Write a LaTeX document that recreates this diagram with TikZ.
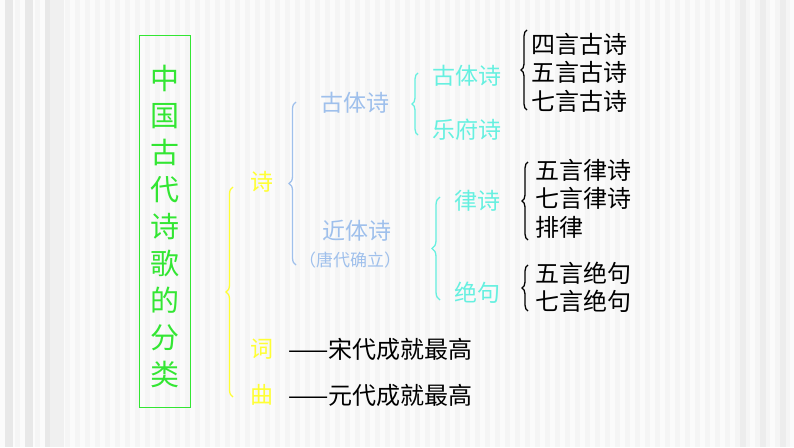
\documentclass[tikz,border=0pt]{standalone}
\usepackage{fontspec}
\setmainfont{Noto Sans CJK SC}
\usetikzlibrary{decorations.pathreplacing}
\definecolor{tgreen}{HTML}{33E633}
\definecolor{tyellow}{HTML}{FFFF33}
\definecolor{tblue}{HTML}{9FC0EC}
\definecolor{tcyan}{HTML}{66F0E0}
\tikzset{
 br/.style={decorate,decoration={brace,amplitude=#1},line width=1.3pt},
 ytxt/.style={text=tyellow,font=\fontsize{23}{24}\selectfont,inner sep=0pt},
 btxt/.style={text=tblue,font=\fontsize{23}{24}\selectfont,inner sep=0pt},
 ctxt/.style={text=tcyan,font=\fontsize{23}{24}\selectfont,inner sep=0pt},
 ktxt/.style={text=black,font=\fontsize{24}{25}\selectfont,inner sep=0pt,anchor=west},
}
\begin{document}
\begin{tikzpicture}[x=1pt,y=-1pt]
\useasboundingbox (0,0) rectangle (794,447);
\fill[gray!8] (0,0) rectangle (794,447);
\foreach \i in {0,10,...,790} \fill[white!70!gray!10] (\i,0) rectangle ++(5,447);
\foreach \i in {0,20,40} \fill[gray!18] (\i+5,0) rectangle ++(8,447);
\fill[gray!12] (50,0) rectangle (64,447);
\foreach \i in {740,760,780} \fill[gray!14] (\i,0) rectangle ++(6,447);
% title box
\node[draw=tgreen,line width=0.6pt,minimum width=51pt,minimum height=372pt,inner sep=0pt] (title) at (165,221) {};
\node[text=tgreen,font=\fontsize{29}{37}\selectfont,align=center,inner sep=0pt] (tt) at (165,226) {中\\国\\古\\代\\诗\\歌\\的\\分\\类};
% level 1
\node[ytxt] (shi) at (262,182) {诗};
\node[ytxt] (ci) at (262,349) {词};
\node[ytxt] (qu) at (262,395) {曲};
\draw[tyellow,br=7pt] (233,397) -- (233,187);
\node[ktxt] (cit) at (288,349) {——宋代成就最高};
\node[ktxt] (qut) at (288,395) {——元代成就最高};
% level 2
\draw[tblue,br=7pt] (296,265) -- (296,102);
\node[btxt] (gt) at (355,103) {古体诗};
\node[btxt] (jt) at (357,231) {近体诗};
\node[text=tblue,font=\fontsize{17}{18}\selectfont,inner sep=0pt] (td) at (350,260) {（唐代确立）};
% level 3
\draw[tcyan,br=6pt] (418,135) -- (418,73);
\node[ctxt] (gt2) at (467,76) {古体诗};
\node[ctxt] (yf) at (467,130) {乐府诗};
\draw[tcyan,br=8pt] (440,300) -- (440,197);
\node[ctxt] (ls) at (477,201) {律诗};
\node[ctxt] (jj) at (477,293) {绝句};
% level 4
\draw[black,br=6pt] (527,110) -- (527,30);
\node[ktxt] (a1) at (531,44) {四言古诗};
\node[ktxt] (a2) at (531,72) {五言古诗};
\node[ktxt] (a3) at (531,101) {七言古诗};
\draw[black,br=6pt] (528,240) -- (528,162);
\node[ktxt] (b1) at (535,170) {五言律诗};
\node[ktxt] (b2) at (535,198) {七言律诗};
\node[ktxt] (b3) at (535,227) {排律};
\draw[black,br=6pt] (528,311) -- (528,265);
\node[ktxt] (c1) at (535,273) {五言绝句};
\node[ktxt] (c2) at (535,301) {七言绝句};
\end{tikzpicture}
\end{document}
